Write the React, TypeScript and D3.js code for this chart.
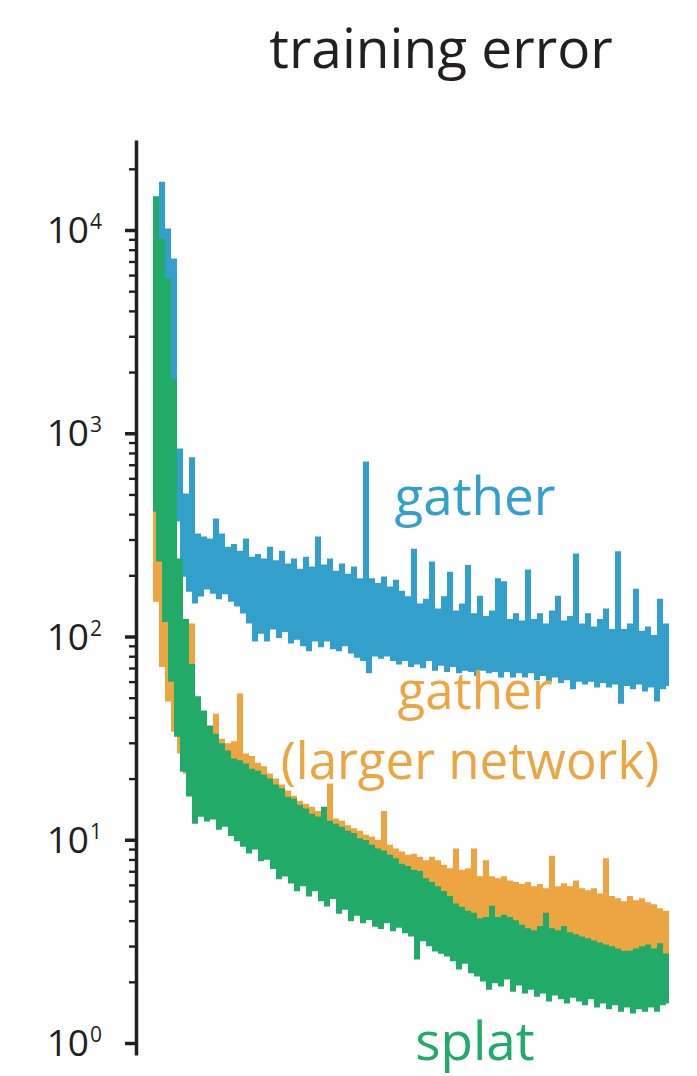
import React, { useEffect, useRef } from 'react';
import * as d3 from 'd3';

const gather = [
  589, 8900, 1460, 17000, 1820, 10000, 926, 7120, 374, 827, 200, 497, 169,
  750, 148, 316, 160, 305, 173, 298, 165, 374, 155, 316, 164, 272,
  151, 280, 143, 260, 132, 298, 118, 243, 96, 250, 105, 238, 96,
  272, 110, 233, 100, 260, 107, 225, 94, 238, 98, 212, 91, 243,
  86, 217, 96, 305, 90, 222, 96, 238, 88, 207, 86, 225, 91,
  200, 84, 217, 80, 190, 77, 714, 67, 190, 81, 180, 79, 194,
  81, 173, 77, 187, 74, 165, 77, 155, 72, 266, 74, 143, 71,
  151, 77, 230, 69, 135, 73, 155, 68, 205, 72, 132, 67, 143,
  69, 221, 68, 128, 65, 156, 69, 124, 67, 132, 68, 190, 64,
  184, 68, 120, 64, 128, 67, 118, 64, 210, 67, 120, 62, 128,
  65, 114, 61, 132, 64, 156, 60, 118, 62, 124, 56, 252, 61,
  114, 59, 128, 61, 110, 57, 120, 60, 135, 57, 107, 59, 258,
  47.5, 107, 58, 114, 56, 169, 59, 105, 54.5, 110, 57, 100, 48.7,
  151, 56, 114, 58,
];

const gatherLarge = [
  3220, 151, 374, 72, 212, 48.7, 120, 34.6, 76.5, 27, 54.5, 21.5, 46,
  114, 17.6, 38, 16.6, 34.6, 16, 32.7, 15.7, 41, 14.8, 30.9, 14.3, 29.3,
  13.6, 30, 13.2, 51.5, 12.5, 26.1, 11.8, 25.4, 11.4, 23.5, 10.6, 22.6, 10.2,
  20.8, 9.8, 19.7, 9.1, 18.4, 8.7, 17.2, 8.3, 16.2, 7.97, 15.3, 7.6, 14.8,
  7.4, 14.3, 7.12, 13.6, 6.8, 13.2, 6.6, 18.6, 6.36, 12.5, 6.1, 12.2, 5.95,
  11.6, 5.67, 11.2, 5.55, 10.9, 5.35, 10.4, 5.2, 10.2, 5.07, 9.8, 4.84, 13.6,
  4.73, 9.3, 4.6, 8.9, 4.52, 8.6, 4.4, 8.3, 4.3, 8.4, 4.1, 8.1, 4.04,
  7.8, 3.95, 8.1, 3.85, 7.8, 3.75, 7.4, 3.7, 7.12, 3.61, 8.9, 3.53, 7.0,
  3.45, 7.12, 3.37, 8.9, 3.29, 6.5, 3.22, 7.8, 3.14, 6.5, 3.07, 6.36, 3.0,
  6.5, 2.94, 6.2, 2.87, 6.1, 2.8, 5.95, 2.77, 6.1, 2.71, 5.8, 2.68, 5.95,
  2.62, 5.67, 2.62, 8.2, 2.57, 5.8, 2.57, 6.0, 2.5, 5.8, 2.5, 6.2, 2.45,
  5.67, 2.45, 5.55, 2.4, 5.67, 2.4, 5.35, 2.34, 7.97, 2.34, 5.2, 2.29, 5.07,
  2.29, 4.9, 2.24, 5.2, 2.24, 4.95, 2.19, 5.07, 2.19, 4.84, 2.13, 4.73, 2.13,
  4.52, 2.09, 4.4, 2.16,
];

const splat = [
  419, 14400, 238, 8900, 120, 5680, 61, 1820, 32.7, 238, 22, 120, 16.6,
  72, 12.2, 50, 13.2, 42.5, 12.5, 35.9, 12.8, 32.7, 11.4, 29.3, 11.8, 27,
  10.6, 24.7, 10, 24.2, 9.4, 23.3, 8.7, 22, 9.1, 21.5, 7.97, 20.6, 8.1,
  19.7, 7.3, 18.4, 6.5, 17.6, 6.7, 16, 6.2, 15.7, 5.67, 14.6, 6.0, 14,
  5.35, 13.2, 5.67, 12.8, 5.07, 14.3, 4.78, 12.2, 5.2, 11.8, 4.4, 11.4, 4.6,
  10.9, 4.04, 10.6, 4.3, 10, 3.95, 9.8, 4.1, 9.3, 3.8, 8.9, 3.7, 8.7,
  3.95, 8.3, 3.61, 7.97, 3.75, 7.5, 3.53, 7.3, 3.4, 7.0, 2.62, 6.9, 3.22,
  6.36, 3.04, 6.1, 2.87, 5.8, 2.8, 5.5, 2.71, 5.2, 2.57, 4.78, 2.34, 4.6,
  2.5, 4.4, 2.24, 4.3, 2.16, 4.04, 2.04, 4.1, 1.86, 4.65, 2.0, 4.1, 1.93,
  4.2, 2.09, 4.1, 1.82, 3.95, 1.95, 3.75, 1.78, 3.61, 1.86, 3.53, 1.72, 3.7,
  1.78, 4.3, 1.63, 3.61, 1.74, 3.53, 1.67, 3.7, 1.59, 3.45, 1.7, 3.37, 1.63,
  3.29, 1.56, 3.22, 1.67, 3.14, 1.52, 3.07, 1.59, 3.0, 1.49, 2.94, 1.56, 2.87,
  1.45, 2.8, 1.52, 2.8, 1.42, 2.87, 1.49, 2.94, 1.45, 3.0, 1.52, 2.87, 1.45,
  3.04, 1.56, 2.71, 1.59,
];

const majorTicks = [1, 10, 100, 1000, 10000];
const tickExponents = ['0', '1', '2', '3', '4'];
const minorTicks = [2, 3, 4, 5, 6, 7, 8, 9].flatMap(m => [1, 10, 100, 1000].map(p => m * p)).concat([20000]);

const BLUE = '#339fcb';
const ORANGE = '#eca541';
const GREEN = '#22aa69';
const INK = '#231f20';
const FONT = '"Open Sans", "Noto Sans", sans-serif';

const W = 697;
const H = 1076;

export default function App() {
  const axisRef = useRef<SVGGElement>(null);

  const y = d3.scaleLog().domain([0.873, 27720]).range([1055, 140]);
  const xFor = (n: number) => d3.scaleLinear().domain([0, n - 1]).range([153, 669]);

  // dense noisy curve: step segments so the peaks/troughs fill into a band
  const pathOf = (vals: number[]) => {
    const x = xFor(vals.length);
    return d3.line<number>()
      .x((_, i) => x(i))
      .y(d => y(d))
      .curve(d3.curveStep)(vals) || '';
  };

  useEffect(() => {
    const g = d3.select(axisRef.current);
    g.selectAll('*').remove();

    const major = g.append('g').attr('transform', 'translate(136,0)')
      .call(d3.axisLeft(y).tickValues(majorTicks).tickSize(11).tickSizeOuter(0).tickFormat(() => ''));
    major.select('.domain').attr('stroke', INK).attr('stroke-width', 3.5);
    major.selectAll('.tick line').attr('stroke', INK).attr('stroke-width', 3.5);

    const minor = g.append('g').attr('transform', 'translate(136,0)')
      .call(d3.axisLeft(y).tickValues(minorTicks).tickSize(7).tickSizeOuter(0).tickFormat(() => ''));
    minor.select('.domain').remove();
    minor.selectAll('.tick line').attr('stroke', INK).attr('stroke-width', 2.4);
  }, []);

  const lineStyle = { fill: 'none', strokeWidth: 3, strokeLinejoin: 'miter' as const };

  return (
    <svg width={W} height={H} style={{ position: 'absolute', left: 0, top: 0, background: '#fff' }}
      fontFamily={FONT}>
      <text x={441} y={68} textAnchor="middle" fontSize={55} fill={INK}>training error</text>

      <g ref={axisRef} />

      {majorTicks.map((v, i) => (
        <g key={v}>
          <text x={89} y={y(v) + 13} textAnchor="end" fontSize={37} fill={INK}>10</text>
          <text x={90} y={y(v) - 1} fontSize={21} fill={INK}>{tickExponents[i]}</text>
        </g>
      ))}

      <path d={pathOf(gather)} stroke={BLUE} {...lineStyle} />
      <path d={pathOf(gatherLarge)} stroke={ORANGE} {...lineStyle} />
      <path d={pathOf(splat)} stroke={GREEN} {...lineStyle} />

      <g textAnchor="middle">
        <text x={475} y={515} fontSize={53} fill={BLUE}>gather</text>
        <text x={475} y={709} fontSize={51} fill={ORANGE}>gather</text>
        <text x={470} y={779} fontSize={51} fill={ORANGE}>(larger network)</text>
        <text x={475} y={1060} fontSize={53} fill={GREEN}>splat</text>
      </g>
    </svg>
  );
}
